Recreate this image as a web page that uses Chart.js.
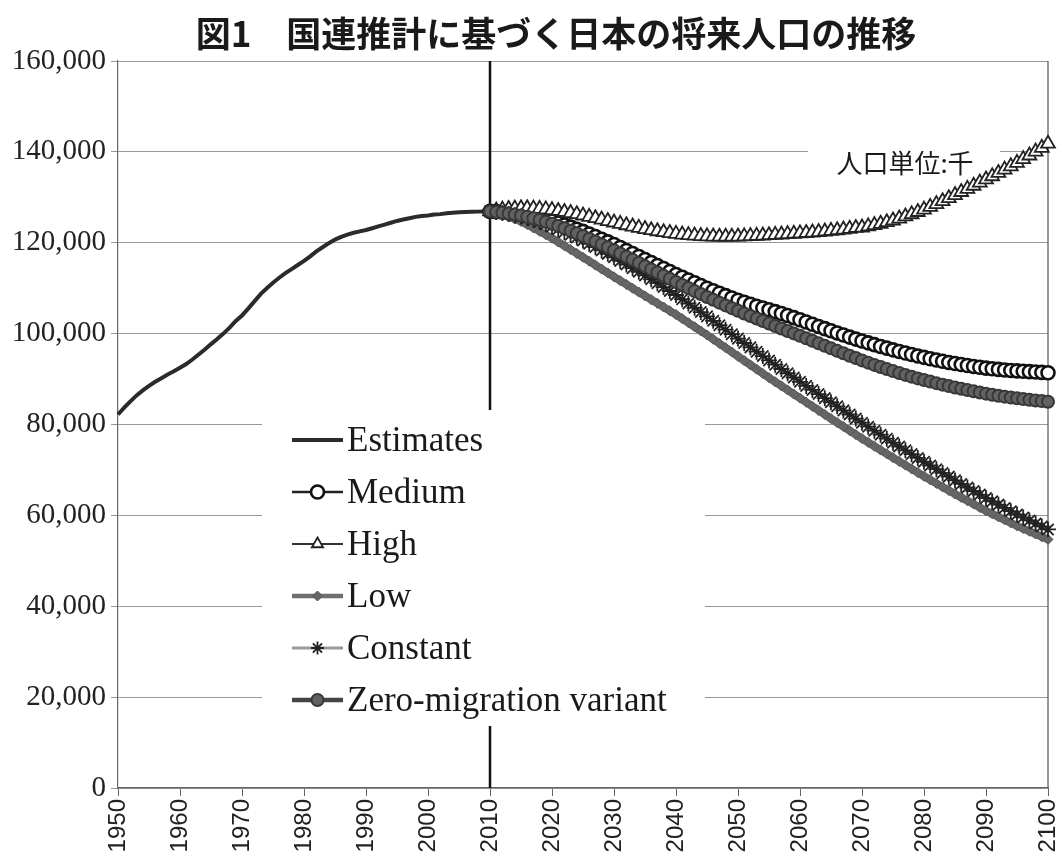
<!DOCTYPE html>
<html>
<head>
<meta charset="utf-8">
<script src="https://cdn.jsdelivr.net/npm/chart.js@4.4.1/dist/chart.umd.min.js"></script>
<style>
  body { margin: 0; background: #fff; }
  canvas { display: block; }
</style>
</head>
<body>
<canvas id="popChart" width="1062" height="857"></canvas>
<script>
const title = '図1　国連推計に基づく日本の将来人口の推移';
const unitNote = '人口単位:千';

const years = [];
for (let y = 1950; y <= 2100; y++) years.push(y);

const yTicks = [0, 20000, 40000, 60000, 80000, 100000, 120000, 140000, 160000];

// 1950-2010 (thousands)
const estimates = [
  82200, 83700, 85100, 86400, 87500, 88500, 89400, 90200, 91000, 91700,
  92500, 93300, 94300, 95400, 96500, 97700, 98800, 100000, 101300, 102800,
  104000, 105500, 107100, 108700, 110000, 111200, 112300, 113300, 114200, 115100,
  116000, 117000, 118100, 119000, 119900, 120700, 121300, 121800, 122200, 122500,
  122800, 123200, 123600, 124000, 124400, 124800, 125100, 125400, 125700, 125900,
  126000, 126200, 126300, 126500, 126600, 126700, 126750, 126800, 126850, 126880,
  126900
];

// 2010-2100
const medium = [
  126900, 126850, 126750, 126620, 126470, 126300, 126050, 125760, 125450, 125130,
  124800, 124360, 123900, 123440, 122970, 122500, 121940, 121360, 120780, 120190,
  119600, 118950, 118290, 117630, 116970, 116300, 115640, 114980, 114320, 113660,
  113000, 112400, 111800, 111200, 110600, 110000, 109450, 108900, 108370, 107850,
  107350, 106890, 106450, 106030, 105630, 105240, 104840, 104420, 103980, 103520,
  103050, 102560, 102070, 101580, 101100, 100620, 100150, 99690, 99240, 98800,
  98380, 97970, 97570, 97180, 96800, 96430, 96080, 95740, 95410, 95090,
  94780, 94480, 94190, 93920, 93660, 93410, 93190, 92980, 92780, 92590,
  92410, 92260, 92130, 92010, 91900, 91800, 91710, 91630, 91550, 91470,
  91400
];

const high = [
  126900, 127100, 127280, 127420, 127520, 127580, 127580, 127540, 127460, 127340,
  127190, 127000, 126780, 126540, 126280, 126000, 125700, 125400, 125090, 124780,
  124460, 124150, 123850, 123560, 123280, 123010, 122760, 122530, 122320, 122130,
  121960, 121810, 121680, 121570, 121480, 121410, 121360, 121330, 121320, 121330,
  121360, 121400, 121450, 121510, 121580, 121660, 121740, 121820, 121900, 121980,
  122060, 122150, 122250, 122360, 122480, 122610, 122750, 122900, 123070, 123260,
  123350, 123600, 123870, 124170, 124520, 124900, 125330, 125790, 126270, 126770,
  127300, 127890, 128500, 129140, 129810, 130500, 131170, 131850, 132540, 133230,
  133930, 134640, 135360, 136090, 136830, 137580, 138400, 139200, 140050, 140900,
  141800
];

const low = [
  126900, 126550, 126150, 125700, 125220, 124700, 124000, 123260, 122510, 121760,
  121000, 120170, 119330, 118490, 117650, 116800, 115940, 115080, 114220, 113360,
  112500, 111660, 110820, 109980, 109140, 108300, 107480, 106660, 105840, 105020,
  104200, 103300, 102400, 101500, 100600, 99700, 98760, 97820, 96880, 95940,
  95000, 94060, 93120, 92180, 91240, 90300, 89400, 88500, 87600, 86700,
  85800, 84900, 84000, 83100, 82200, 81300, 80420, 79540, 78660, 77780,
  76900, 76060, 75220, 74380, 73540, 72700, 71880, 71060, 70240, 69420,
  68600, 67820, 67040, 66260, 65480, 64700, 63960, 63220, 62480, 61740,
  61000, 60340, 59680, 59020, 58360, 57700, 57100, 56500, 55900, 55300,
  54700
];

const constant = [
  126900, 126750, 126560, 126320, 126070, 125800, 125410, 124990, 124550, 124080,
  123600, 123000, 122390, 121770, 121140, 120500, 119780, 119050, 118310, 117560,
  116800, 116010, 115210, 114410, 113610, 112800, 111960, 111110, 110250, 109380,
  108500, 107570, 106630, 105690, 104750, 103800, 102820, 101840, 100860, 99880,
  98900, 97940, 96980, 96020, 95060, 94100, 93160, 92220, 91280, 90340,
  89400, 88500, 87600, 86700, 85800, 84900, 84000, 83100, 82200, 81300,
  80400, 79520, 78640, 77760, 76880, 76000, 75160, 74320, 73480, 72640,
  71800, 70980, 70160, 69340, 68520, 67700, 66920, 66140, 65360, 64580,
  63800, 63080, 62360, 61640, 60920, 60200, 59540, 58880, 58220, 57560,
  56900
];

const zeroMigration = [
  126900, 126780, 126620, 126430, 126220, 125990, 125700, 125370, 125000, 124600,
  124170, 123690, 123180, 122640, 122080, 121500, 120900, 120280, 119640, 118990,
  118330, 117640, 116940, 116240, 115540, 114840, 114140, 113440, 112740, 112050,
  111370, 110690, 110020, 109360, 108710, 108070, 107440, 106820, 106210, 105610,
  105020, 104440, 103870, 103310, 102760, 102210, 101670, 101130, 100590, 100050,
  99510, 98960, 98410, 97860, 97310, 96760, 96210, 95670, 95140, 94620,
  94110, 93610, 93120, 92650, 92190, 91750, 91330, 90920, 90530, 90150,
  89790, 89440, 89100, 88770, 88450, 88140, 87850, 87570, 87300, 87040,
  86790, 86560, 86340, 86130, 85940, 85760, 85590, 85430, 85290, 85150,
  85020
];

const serif = "'Liberation Serif', 'Times New Roman', serif";
const sans = "'Liberation Sans', Arial, sans-serif";
const cjk = "'Noto Sans CJK JP', sans-serif";

const startIdx = years.indexOf(2010);
const proj = arr => Array(startIdx).fill(null).concat(arr);

const decor = {
  id: 'decor',
  beforeDatasetsDraw(chart) {
    const { ctx, chartArea: a, scales: { x } } = chart;
    ctx.save();
    // unit note over the gridline
    ctx.fillStyle = '#fff';
    ctx.fillRect(a.left + 690, a.top + 78, 192, 40);
    ctx.fillStyle = '#1a1a1a';
    ctx.font = '26px ' + cjk;
    ctx.textAlign = 'center';
    ctx.textBaseline = 'middle';
    ctx.fillText(unitNote, a.left + 787, a.top + 102);

    // right frame line
    ctx.strokeStyle = '#555';
    ctx.lineWidth = 1.2;
    const xr = x.getPixelForValue(years.length - 1);
    ctx.beginPath();
    ctx.moveTo(xr, a.top);
    ctx.lineTo(xr, a.bottom);
    ctx.stroke();
    // estimate / projection divider
    const xd = x.getPixelForValue(startIdx);
    ctx.strokeStyle = '#111';
    ctx.lineWidth = 2.5;
    ctx.beginPath();
    ctx.moveTo(xd, a.top);
    ctx.lineTo(xd, a.bottom);
    ctx.stroke();
    ctx.restore();
  },
  afterDatasetsDraw(chart) {
    const { ctx, chartArea: a } = chart;
    ctx.save();
    // legend
    const lx = a.left + 144, ly = a.top + 349;
    ctx.fillStyle = '#fff';
    ctx.fillRect(lx, ly, 443, 316);
    ctx.textAlign = 'left';
    ctx.textBaseline = 'middle';
    ctx.font = '35px ' + serif;
    chart.data.datasets.forEach((ds, i) => {
      const cy = ly + 30 + i * 52;
      const x0 = lx + 30, x1 = lx + 81;
      ctx.strokeStyle = ds.borderColor;
      ctx.lineWidth = Math.min(ds.borderWidth, 4.5);
      ctx.beginPath();
      ctx.moveTo(x0, cy);
      ctx.lineTo(x1, cy);
      ctx.stroke();
      if (ds.pointRadius > 0 && Chart.helpers && Chart.helpers.drawPoint) {
        ctx.fillStyle = ds.pointBackgroundColor;
        ctx.strokeStyle = ds.pointBorderColor;
        ctx.lineWidth = ds.pointBorderWidth;
        Chart.helpers.drawPoint(ctx, {
          pointStyle: ds.pointStyle,
          radius: Math.min(ds.pointRadius, 6.5),
          rotation: 0,
          borderWidth: ds.pointBorderWidth
        }, (x0 + x1) / 2, cy);
      }
      ctx.fillStyle = '#1a1a1a';
      ctx.fillText(ds.label, x1 + 4, cy + 2);
    });
    ctx.restore();
  },
  afterDraw(chart) {
    const { ctx } = chart;
    ctx.save();
    ctx.fillStyle = '#1a1a1a';
    ctx.font = 'bold 35px ' + cjk;
    ctx.textAlign = 'center';
    ctx.textBaseline = 'middle';
    ctx.fillText(title, 556, 34);
    ctx.restore();
  }
};

const ctx = document.getElementById('popChart').getContext('2d');
const chart = new Chart(ctx, {
  type: 'line',
  data: {
    labels: years,
    datasets: [
      {
        label: 'Estimates',
        data: estimates,
        borderColor: '#2b2b2b',
        borderWidth: 4,
        pointRadius: 0,
        order: 6
      },
      {
        label: 'Medium',
        data: proj(medium),
        borderColor: '#222',
        borderWidth: 2.5,
        pointStyle: 'circle',
        pointRadius: 6.5,
        pointBackgroundColor: '#fff',
        pointBorderColor: '#111',
        pointBorderWidth: 2.6,
        order: 5
      },
      {
        label: 'High',
        data: proj(high),
        borderColor: '#333',
        borderWidth: 2,
        pointStyle: 'triangle',
        pointRadius: 8,
        pointBackgroundColor: '#fff',
        pointBorderColor: '#222',
        pointBorderWidth: 1.8,
        order: 4
      },
      {
        label: 'Low',
        data: proj(low),
        borderColor: '#6f6f6f',
        borderWidth: 8,
        pointStyle: 'rectRot',
        pointRadius: 5,
        pointBackgroundColor: '#666',
        pointBorderColor: '#5a5a5a',
        pointBorderWidth: 1,
        order: 3
      },
      {
        label: 'Constant',
        data: proj(constant),
        borderColor: '#9a9a9a',
        borderWidth: 3,
        pointStyle: 'star',
        pointRadius: 8,
        pointBackgroundColor: '#222',
        pointBorderColor: '#222',
        pointBorderWidth: 1.8,
        order: 2
      },
      {
        label: 'Zero-migration variant',
        data: proj(zeroMigration),
        borderColor: '#444',
        borderWidth: 6,
        pointStyle: 'circle',
        pointRadius: 6,
        pointBackgroundColor: '#626262',
        pointBorderColor: '#383838',
        pointBorderWidth: 2,
        order: 1
      }
    ]
  },
  options: {
    responsive: false,
    animation: false,
    devicePixelRatio: 1,
    layout: { padding: { top: 61 } },
    plugins: {
      legend: { display: false },
      title: { display: false },
      tooltip: { enabled: false }
    },
    scales: {
      x: {
        type: 'category',
        afterFit: s => { s.height = 69; s.paddingRight = 14; s.paddingLeft = 0; },
        grid: { drawOnChartArea: false, tickLength: 8, color: '#666' },
        border: { color: '#666', width: 1.2 },
        ticks: {
          autoSkip: false,
          minRotation: 90,
          maxRotation: 90,
          padding: 3,
          color: '#222',
          font: { family: sans, size: 24 },
          callback: (v, i) => (years[i] % 10 === 0 ? String(years[i]) : null)
        }
      },
      y: {
        min: 0,
        max: 160000,
        afterFit: s => { s.width = 118; },
        afterBuildTicks: s => { s.ticks = yTicks.map(v => ({ value: v })); },
        grid: { color: '#999', tickLength: 7 },
        border: { color: '#666', width: 1.2 },
        ticks: {
          padding: 5,
          color: '#222',
          font: { family: serif, size: 29 },
          callback: v => v.toLocaleString('en-US')
        }
      }
    }
  },
  plugins: [decor]
});
</script>
</body>
</html>
